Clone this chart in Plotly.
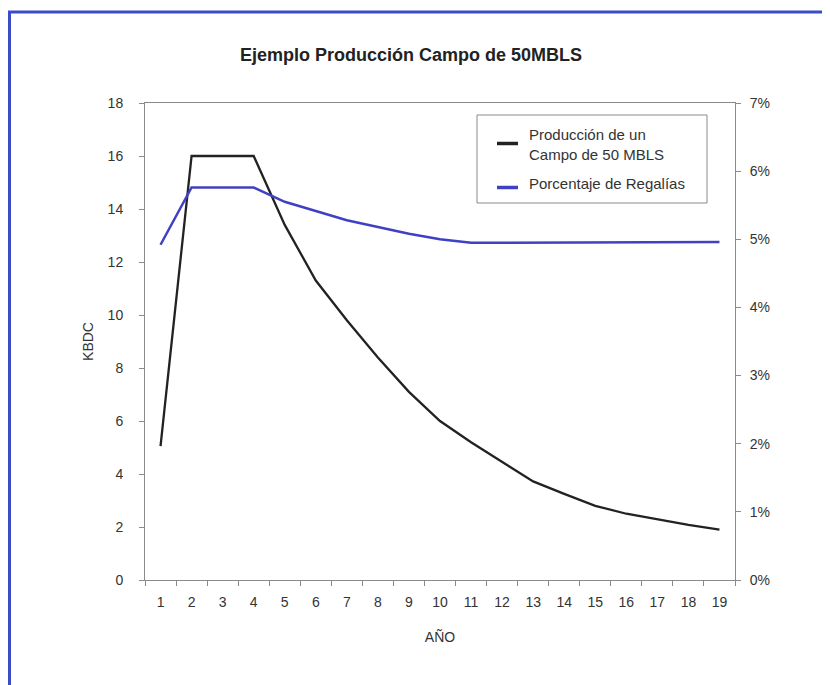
import plotly.graph_objects as go

# datos
anios = [str(a) for a in range(1, 20)]
produccion = [5.05, 16.0, 16.0, 16.0, 13.4, 11.3, 9.8, 8.4, 7.1, 6.0,
              5.2, 4.45, 3.72, 3.25, 2.8, 2.5, 2.28, 2.08, 1.9]
regalias = [4.92, 5.76, 5.76, 5.76, 5.55, 5.41, 5.28, 5.18, 5.08, 5.0,
            4.95, 4.95, 4.95, 4.95, 4.95, 4.96, 4.96, 4.96, 4.96]
y_ticks = [0, 2, 4, 6, 8, 10, 12, 14, 16, 18]
y2_ticks = [0, 1, 2, 3, 4, 5, 6, 7]
series_names = ['Producción de un<br>Campo de 50 MBLS', 'Porcentaje de Regalías']
series_colors = ['#222222', '#4040c4']

W, H = 830, 685
OFF = 8  # margen del body en la pagina
M = dict(l=145 - OFF, r=95 + OFF, t=103 - OFF, b=105 + OFF)
PW = W - M['l'] - M['r']
PH = H - M['t'] - M['b']

AXIS_COLOR = '#8a8a8a'
TEXT_COLOR = '#333333'
FONT = 'Liberation Sans, Arial, sans-serif'


def px_x(px):
    # posicion en la pagina -> coordenada paper
    return (px - OFF - M['l']) / PW


def px_y(py):
    return (H - M['b'] - (py - OFF)) / PH


fig = go.Figure()

fig.add_trace(go.Scatter(
    x=anios, y=produccion,
    mode='lines',
    name=series_names[0],
    line=dict(color=series_colors[0], width=2.3),
    showlegend=False,
))

fig.add_trace(go.Scatter(
    x=anios, y=regalias,
    mode='lines',
    name=series_names[1],
    line=dict(color=series_colors[1], width=2.5),
    yaxis='y2',
    showlegend=False,
))

fig.update_layout(
    width=W, height=H,
    margin=M,
    paper_bgcolor='white',
    plot_bgcolor='white',
    font=dict(family=FONT, size=14, color=TEXT_COLOR),
    title=dict(
        text='<b>Ejemplo Producción Campo de 50MBLS</b>',
        font=dict(size=18, color='#222222'),
        x=px_x(411), xanchor='center', xref='paper',
        y=1 - (55 - OFF) / H, yanchor='middle',
    ),
    xaxis=dict(
        type='category',
        tickson='boundaries',
        ticks='outside', ticklen=5, tickcolor=AXIS_COLOR,
        ticklabelstandoff=9,
        showline=True, linecolor=AXIS_COLOR, linewidth=1,
        mirror=True,
        showgrid=False, zeroline=False,
        range=[-0.5, 18.5],
        title=dict(text='AÑO', standoff=23, font=dict(size=14)),
    ),
    yaxis=dict(
        range=[0, 18],
        tickvals=y_ticks,
        ticks='outside', ticklen=5, tickcolor=AXIS_COLOR,
        ticklabelstandoff=13,
        showline=True, linecolor=AXIS_COLOR, linewidth=1,
        showgrid=False, zeroline=False,
        title=dict(text='KBDC', standoff=10, font=dict(size=14)),
    ),
    yaxis2=dict(
        overlaying='y', side='right',
        range=[0, 7],
        tickvals=y2_ticks,
        ticktext=[f'{v}%' for v in y2_ticks],
        ticks='outside', ticklen=5, tickcolor=AXIS_COLOR,
        ticklabelstandoff=6,
        showline=True, linecolor=AXIS_COLOR, linewidth=1,
        showgrid=False, zeroline=False,
    ),
    showlegend=False,
)

# leyenda dibujada a mano (recuadro, muestras y textos)
fig.add_shape(type='rect', xref='paper', yref='paper',
              x0=px_x(477), x1=px_x(707), y0=px_y(203), y1=px_y(115),
              line=dict(color=AXIS_COLOR, width=1), fillcolor='white')
legend_rows = [(143.5, 144), (187.5, 183)]  # (y muestra, y texto)
for name, color, (ys, yt) in zip(series_names, series_colors, legend_rows):
    fig.add_shape(type='line', xref='paper', yref='paper',
                  x0=px_x(497), x1=px_x(518), y0=px_y(ys), y1=px_y(ys),
                  line=dict(color=color, width=3.5))
    fig.add_annotation(xref='paper', yref='paper',
                       x=px_x(527), y=px_y(yt),
                       xanchor='left', yanchor='middle', align='left',
                       text=name, showarrow=False,
                       font=dict(size=15, color=TEXT_COLOR))

# marco azul de la pagina (arriba e izquierda)
fig.add_shape(type='line', xref='paper', yref='paper',
              x0=px_x(8), x1=px_x(850), y0=px_y(12), y1=px_y(12),
              line=dict(color='#3b4cc8', width=3))
fig.add_shape(type='line', xref='paper', yref='paper',
              x0=px_x(9.5), x1=px_x(9.5), y0=px_y(11), y1=px_y(700),
              line=dict(color='#3b4cc8', width=3))

fig.write_html("out.html")
